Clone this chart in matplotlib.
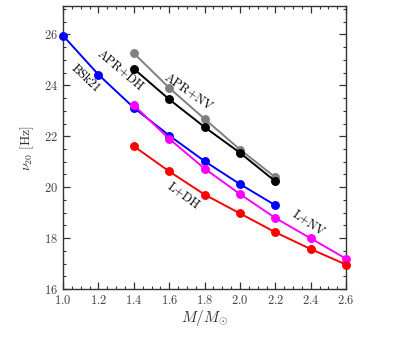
import matplotlib
matplotlib.use("Agg")
import matplotlib.pyplot as plt
from matplotlib.ticker import MultipleLocator, FuncFormatter

plt.rcParams['mathtext.fontset'] = 'cm'
plt.rcParams['font.family'] = 'serif'
plt.rcParams['font.serif'] = ['cmr10', 'DejaVu Serif']
plt.rcParams['axes.formatter.use_mathtext'] = True

# Data
m_bsk = [1.0, 1.2, 1.4, 1.6, 1.8, 2.0, 2.2]
nu_bsk = [25.95, 24.42, 23.12, 22.03, 21.02, 20.12, 19.29]

m_apr = [1.4, 1.6, 1.8, 2.0, 2.2]
nu_apr_dh = [24.65, 23.45, 22.36, 21.35, 20.23]
nu_apr_nv = [25.26, 23.9, 22.68, 21.48, 20.39]

m_l = [1.4, 1.6, 1.8, 2.0, 2.2, 2.4, 2.6]
nu_l_dh = [21.61, 20.62, 19.71, 18.97, 18.23, 17.57, 16.96]
nu_l_nv = [23.22, 21.9, 20.73, 19.73, 18.79, 17.99, 17.19]

series = [
    (m_bsk, nu_bsk, 'blue'),
    (m_l, nu_l_nv, 'magenta'),
    (m_l, nu_l_dh, 'red'),
    (m_apr, nu_apr_nv, 'gray'),
    (m_apr, nu_apr_dh, 'black'),
]

labels = [
    ('BSk21', 1.124, 24.27, -43),
    ('APR+DH', 1.326, 24.6, -40),
    ('APR+NV', 1.712, 23.73, -35),
    ('L+DH', 1.68, 19.67, -36),
    ('L+NV', 2.387, 18.6, -34),
]

fig = plt.figure(figsize=(4.15, 3.47), dpi=100)
ax = fig.add_axes([0.152, 0.167, 0.682, 0.816])

for xs, ys, c in series:
    ax.plot(xs, ys, '-o', color=c, lw=1.4, ms=5.4, clip_on=False, zorder=3)

for txt, x, y, rot in labels:
    ax.text(x, y, txt, rotation=rot, family='cmr10',
            ha='center', va='center', fontsize=9, rotation_mode='anchor')

ax.set_xlim(1.0, 2.6)
ax.set_ylim(16, 27.12)
ax.xaxis.set_major_locator(MultipleLocator(0.2))
ax.xaxis.set_minor_locator(MultipleLocator(0.05))
ax.yaxis.set_major_locator(MultipleLocator(2))
ax.yaxis.set_minor_locator(MultipleLocator(0.5))
ax.xaxis.set_major_formatter(FuncFormatter(lambda v, p: r'$%.1f$' % v))
ax.yaxis.set_major_formatter(FuncFormatter(lambda v, p: r'$%d$' % round(v)))
ax.tick_params(which='both', direction='in', top=True, right=True, labelsize=9,
               colors='#333333', labelcolor='#444444')
ax.tick_params(which='major', length=5, width=0.9)
ax.tick_params(which='minor', length=2.5, width=0.8)
for s in ax.spines.values():
    s.set_color('#333333')
    s.set_linewidth(1.0)

ax.set_xlabel(r'$M/M_{\odot}$', fontsize=11, color='#333333', labelpad=1)
ax.set_ylabel(r'$\nu_{20}\ [\mathrm{Hz}]$', fontsize=10, color='#333333', labelpad=6)

fig.savefig('out.png', dpi=100)
